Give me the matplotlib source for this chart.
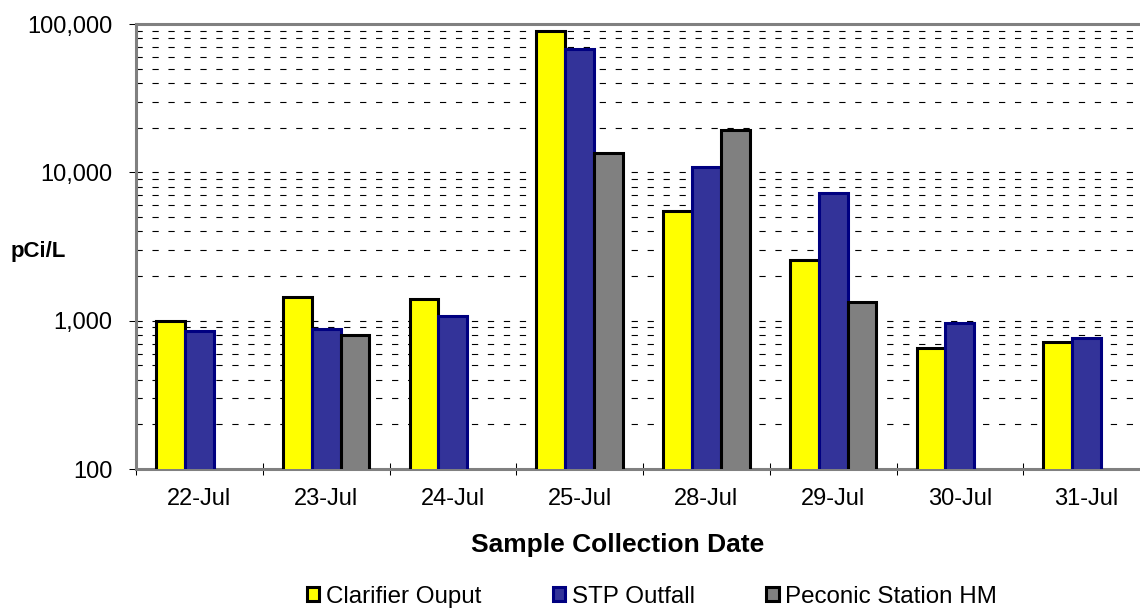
import numpy as np
import matplotlib
matplotlib.use('Agg')
import matplotlib.pyplot as plt
from matplotlib.ticker import FixedLocator, FuncFormatter, LogLocator, NullFormatter

plt.rcParams['font.family'] = ['Liberation Sans', 'DejaVu Sans']
plt.rcParams['lines.scale_dashes'] = False

dates = ['22-Jul', '23-Jul', '24-Jul', '25-Jul', '28-Jul', '29-Jul', '30-Jul', '31-Jul']
clarifier = [1000, 1440, 1390, 90000, 5450, 2580, 655, 715]
stp = [850, 880, 1080, 67500, 10900, 7250, 965, 765]
peconic = [np.nan, 805, np.nan, 13400, 19300, 1330, np.nan, np.nan]

series = [
    ('Clarifier Ouput', clarifier, '#FFFF00', 'black'),
    ('STP Outfall', stp, '#333399', '#000080'),
    ('Peconic Station HM', peconic, '#808080', 'black'),
]

W, H = 1140, 609
fig = plt.figure(figsize=(W / 100, H / 100), dpi=100)
ax = fig.add_axes([136 / W, 1 - 469 / H, (1150 - 136) / W, (469 - 24) / H])

x = np.arange(len(dates))
bw = 0.227
handles = []
for i, (name, vals, fc, ec) in enumerate(series):
    b = ax.bar(x + (i - 1) * bw, vals, bw, color=fc, edgecolor=ec, linewidth=2.2,
               label=name, zorder=3)
    handles.append(b)

ax.set_yscale('log')
ax.set_ylim(100, 100000)
ax.set_xlim(-0.5, len(dates) - 0.5)

# y axis ticks
ax.yaxis.set_major_locator(FixedLocator([100, 1000, 10000, 100000]))
ax.yaxis.set_major_formatter(FuncFormatter(lambda v, p: f'{v:,.0f}'))
ax.yaxis.set_minor_locator(LogLocator(base=10, subs=np.arange(2, 10)))
ax.yaxis.set_minor_formatter(NullFormatter())
ax.tick_params(axis='y', which='major', direction='out', length=5, width=0.75,
               color='black', labelsize=17, pad=12)
ax.tick_params(axis='y', which='minor', direction='in', length=2.5, width=0.75,
               color='black')

# x axis: ticks on category boundaries, labels in the middle
ax.xaxis.set_major_locator(FixedLocator(np.arange(len(dates) + 1) - 0.5))
ax.xaxis.set_major_formatter(NullFormatter())
ax.xaxis.set_minor_locator(FixedLocator(x))
ax.set_xticklabels(dates, minor=True)
ax.tick_params(axis='x', which='major', direction='inout', length=8, width=0.75,
               color='black')
ax.tick_params(axis='x', which='minor', length=0, labelsize=17, pad=14)

ax.yaxis.grid(True, which='both', color='black', linewidth=0.8,
              linestyle=(0, (4.5, 7.0)))
ax.set_axisbelow(True)

for s in ['left', 'top', 'bottom']:
    ax.spines[s].set_color('#808080')
    ax.spines[s].set_linewidth(2.2)
ax.spines['right'].set_visible(False)

fig.text(11 / W, 1 - 251 / H, 'pCi/L', fontsize=16, fontweight='bold',
         ha='left', va='center')
fig.text(618 / W, 1 - 545 / H, 'Sample Collection Date', fontsize=19,
         fontweight='bold', ha='center', va='center')

fig.legend(handles=handles, loc='center', bbox_to_anchor=(652 / W, 1 - 597 / H),
           ncol=3, frameon=False, fontsize=17.4, handlelength=0.52, handleheight=0.52,
           handletextpad=0.26, columnspacing=2.97, borderpad=0)

fig.savefig('out.png', dpi=100)
